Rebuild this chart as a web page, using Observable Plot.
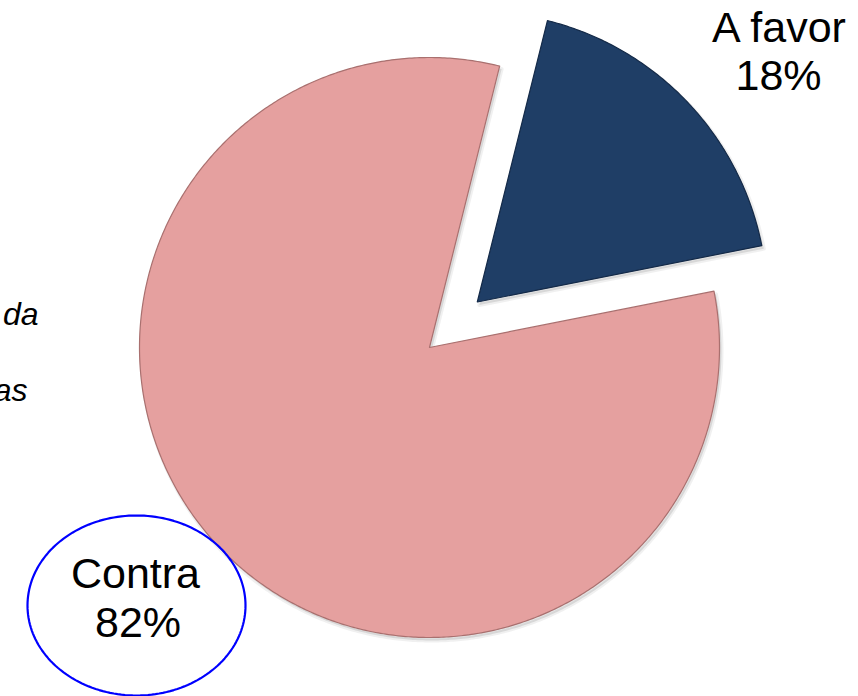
<!DOCTYPE html>
<html>
<head>
<meta charset="utf-8">
<script src="https://cdn.jsdelivr.net/npm/d3@7"></script>
<script src="https://cdn.jsdelivr.net/npm/@observablehq/plot@0.6"></script>
<style>
  html, body { margin: 0; padding: 0; background: #ffffff; }
  #chart { width: 858px; height: 696px; overflow: hidden; }
  #chart svg { display: block; }
</style>
</head>
<body>
<div id="chart"></div>
<script>
// ---- data ----
const categories = ["A favor", "Contra"];
const values = [18, 82];
const percentLabels = ["18%", "82%"];
const sliceColors = ["#1f3e66", "#e5a09f"];
const sliceStrokes = ["#142a48", "#a9706f"];
const sideFragments = ["da", "as"];

// ---- layout ----
const W = 858, H = 696;
const cx = 429, cy = 347, R = 290;
const startDeg = 14;
const explodeDist = [66, 0];

const arcs = d3.pie().sort(null).value(d => d)
  .startAngle(startDeg * Math.PI / 180)
  .endAngle(startDeg * Math.PI / 180 + 2 * Math.PI)(values);

const slices = arcs.map((a, i) => {
  const mid = (a.startAngle + a.endAngle) / 2;
  const ox = cx + explodeDist[i] * Math.sin(mid);
  const oy = cy - explodeDist[i] * Math.cos(mid);
  const pts = [{k: categories[i], x: ox, y: oy}];
  const n = Math.ceil((a.endAngle - a.startAngle) / (Math.PI / 360));
  for (let j = 0; j <= n; j++) {
    const t = a.startAngle + (a.endAngle - a.startAngle) * j / n;
    pts.push({k: categories[i], x: ox + R * Math.sin(t), y: oy - R * Math.cos(t)});
  }
  return pts;
});

// label placement (pixel units)
const labelPos = [
  [{x: 778.5, y: 28}, {x: 778, y: 76}],
  [{x: 135, y: 574}, {x: 137.5, y: 623}]
];
const labelRows = [];
categories.forEach((c, i) => {
  labelRows.push({t: c, ...labelPos[i][0]});
  labelRows.push({t: percentLabels[i], ...labelPos[i][1]});
});

// ellipse around "Contra"
const ell = {cx: 136, cy: 605, rx: 109, ry: 90};
const ellPts = d3.range(0, 361, 2).map(d => ({
  x: ell.cx + ell.rx * Math.cos(d * Math.PI / 180),
  y: ell.cy + ell.ry * Math.sin(d * Math.PI / 180)
}));

const fragRows = [
  {t: sideFragments[0], x: 38, y: 314},
  {t: sideFragments[1], x: 27, y: 390}
];

const chart = Plot.plot({
  width: W,
  height: H,
  margin: 0,
  x: {domain: [0, W], range: [0, W], axis: null},
  y: {domain: [0, H], range: [0, H], axis: null},
  style: {background: "#ffffff", fontFamily: "'Liberation Sans', Arial, sans-serif"},
  marks: [
    // soft shadow
    ...slices.map(pts => Plot.line(pts, {
      x: "x", y: "y", curve: "linear-closed",
      fill: "#000000", fillOpacity: 0.10, stroke: "#000000", strokeOpacity: 0.06, strokeWidth: 4,
      dx: 2, dy: 3
    })),
    ...slices.map((pts, i) => Plot.line(pts, {
      x: "x", y: "y", curve: "linear-closed",
      fill: sliceColors[i], stroke: sliceStrokes[i], strokeWidth: 1.2
    })),
    Plot.line(ellPts, {x: "x", y: "y", curve: "linear-closed", fill: "none", stroke: "#0000ff", strokeWidth: 2.2}),
    Plot.text(labelRows, {x: "x", y: "y", text: "t", fontSize: 43, fill: "#000000",
      fontFamily: "'Liberation Sans', Arial, sans-serif"}),
    Plot.text(fragRows, {x: "x", y: "y", text: "t", fontSize: 32, fill: "#000000",
      fontStyle: "italic", textAnchor: "end",
      fontFamily: "'Liberation Sans', Arial, sans-serif"})
  ]
});
document.getElementById("chart").appendChild(chart);
</script>
</body>
</html>
